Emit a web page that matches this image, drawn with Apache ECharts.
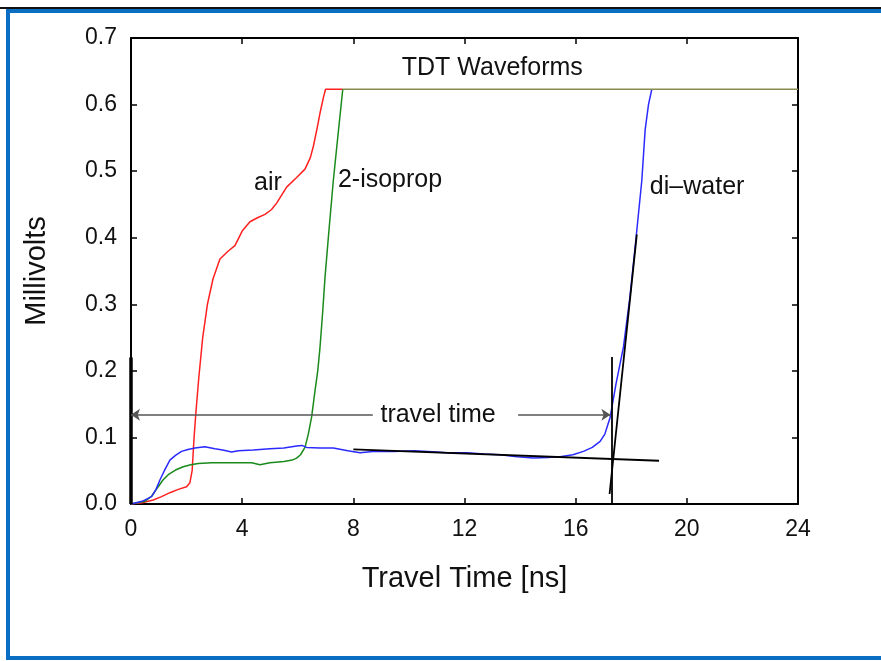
<!DOCTYPE html>
<html>
<head>
<meta charset="utf-8">
<script src="https://cdn.jsdelivr.net/npm/echarts@6/dist/echarts.min.js"></script>
<style>
  html, body { margin: 0; padding: 0; background: #fff; }
  #main { width: 881px; height: 661px; }
</style>
</head>
<body>
<div id="main"></div>
<script>
// axis ticks
const xTicks = [0, 4, 8, 12, 16, 20, 24];
const yTicks = [0, 0.1, 0.2, 0.3, 0.4, 0.5, 0.6, 0.7];

// air waveform [ns, mV]
const airT = [0, 0.4, 0.8, 1.1, 1.4, 1.7, 2.0, 2.12, 2.2, 2.27, 2.34, 2.44, 2.58, 2.75, 2.95, 3.2, 3.5, 3.74, 4.0, 4.28, 4.55, 4.82, 5.05, 5.24, 5.6, 5.95, 6.26, 6.45, 6.56, 6.7, 6.8, 6.92, 7.0, 7.62];
const airV = [0, 0.002, 0.006, 0.011, 0.017, 0.022, 0.026, 0.032, 0.05, 0.1, 0.14, 0.19, 0.25, 0.3, 0.338, 0.368, 0.38, 0.388, 0.41, 0.424, 0.43, 0.435, 0.442, 0.452, 0.476, 0.49, 0.503, 0.52, 0.537, 0.565, 0.587, 0.61, 0.623, 0.623];

// 2-isopropanol waveform
const isoT = [0, 0.5, 0.75, 0.98, 1.15, 1.34, 1.6, 1.88, 2.15, 2.42, 2.9, 3.6, 4.34, 4.64, 5.0, 5.5, 5.8, 5.96, 6.1, 6.26, 6.38, 6.5, 6.62, 6.72, 6.8, 6.9, 6.98, 7.1, 7.28, 7.45, 7.62];
const isoV = [0, 0.004, 0.012, 0.026, 0.036, 0.044, 0.051, 0.056, 0.059, 0.061, 0.062, 0.062, 0.062, 0.059, 0.062, 0.064, 0.066, 0.069, 0.074, 0.085, 0.105, 0.131, 0.17, 0.2, 0.235, 0.29, 0.34, 0.4, 0.486, 0.555, 0.623];

// di-water waveform
const waterT = [0, 0.4, 0.74, 0.9, 1.04, 1.2, 1.4, 1.6, 1.82, 2.05, 2.3, 2.66, 3.02, 3.3, 3.62, 3.86, 4.4, 5.0, 5.5, 5.96, 6.15, 6.32, 6.8, 7.28, 7.8, 8.24, 8.7, 9.44, 10.2, 11.0, 11.36, 12.08, 12.7, 13.28, 13.9, 14.48, 15.0, 15.44, 15.9, 16.28, 16.6, 16.88, 17.05, 17.24, 17.45, 17.72, 17.95, 18.14, 18.38, 18.5, 18.62, 18.74];
const waterV = [0, 0.004, 0.011, 0.022, 0.036, 0.05, 0.066, 0.073, 0.079, 0.082, 0.084, 0.086, 0.083, 0.081, 0.078, 0.08, 0.081, 0.083, 0.084, 0.087, 0.088, 0.085, 0.084, 0.084, 0.08, 0.077, 0.079, 0.079, 0.08, 0.078, 0.077, 0.077, 0.075, 0.074, 0.071, 0.069, 0.07, 0.071, 0.074, 0.079, 0.085, 0.094, 0.105, 0.13, 0.18, 0.236, 0.31, 0.386, 0.486, 0.562, 0.6, 0.623];

// saturated level shared by all three traces
const satT = [7.62, 24];
const satV = [0.623, 0.623];

// construction lines
const startLine = [[0, 0], [0, 0.22]];
const markerLines = [
  [[17.31, 0], [17.31, 0.221]],
  [[17.22, 0.015], [18.2, 0.405]],
  [[8.0, 0.082], [19.0, 0.065]]
];
const arrowLines = [
  [[8.7, 0.134], [0, 0.134]],
  [[13.93, 0.134], [17.25, 0.134]]
];

// in-plot annotations
const notes = [
  { text: 'TDT Waveforms', at: [13.0, 0.655] },
  { text: 'air', at: [4.93, 0.482] },
  { text: '2-isoprop', at: [9.32, 0.486] },
  { text: 'di\u2013water', at: [20.37, 0.476] },
  { text: 'travel time', at: [11.05, 0.134] }
];

const zip = (a, b) => a.map((v, i) => [v, b[i]]);

const chart = echarts.init(document.getElementById('main'));
const font = 'Liberation Sans, Arial, sans-serif';

const lineSeries = (data, color, z) => ({
  type: 'line',
  data: data,
  showSymbol: false,
  z: z,
  lineStyle: { color: color, width: 1.5 },
  animation: false
});

// one frame side: ticks inside, labels optional
const frameAxis = (extra) => Object.assign({
  type: 'value',
  axisLine: { onZero: false, lineStyle: { color: '#000', width: 2 } },
  axisTick: { inside: true, length: 6, lineStyle: { color: '#000', width: 1.5 } },
  splitLine: { show: false }
}, extra);

const option = {
  animation: false,
  grid: { left: 131, top: 38, right: 83, bottom: 157 },
  xAxis: [
    frameAxis({
      min: 0, max: 24, interval: 4,
      axisLabel: { color: '#111', fontSize: 23, fontFamily: font, margin: 14,
        formatter: v => xTicks.includes(v) ? String(v) : '' },
      name: 'Travel Time [ns]', nameLocation: 'middle', nameGap: 60,
      nameTextStyle: { color: '#111', fontSize: 29, fontFamily: font }
    }),
    frameAxis({ min: 0, max: 24, interval: 4, position: 'top', axisLabel: { show: false } })
  ],
  yAxis: [
    frameAxis({
      min: 0, max: 0.7, interval: 0.1,
      axisLabel: { color: '#111', fontSize: 23, fontFamily: font, margin: 14,
        formatter: v => yTicks.some(t => Math.abs(t - v) < 1e-9) ? v.toFixed(1) : '' },
      name: 'Millivolts', nameLocation: 'middle', nameGap: 80, nameRotate: 90,
      nameTextStyle: { color: '#111', fontSize: 29, fontFamily: font }
    }),
    frameAxis({ min: 0, max: 0.7, interval: 0.1, position: 'right', axisLabel: { show: false } })
  ],
  series: [
    lineSeries(zip(airT, airV), '#ff2020', 3),
    lineSeries(zip(isoT, isoV), '#1a8a1a', 4),
    lineSeries(zip(waterT, waterV), '#2a2aff', 5),
    lineSeries(zip(satT, satV), '#8a8a50', 6),
    {
      type: 'lines', coordinateSystem: 'cartesian2d', z: 7,
      data: [{ coords: startLine }],
      lineStyle: { color: '#000', width: 3.5, opacity: 1 },
      symbol: 'none', animation: false
    },
    {
      type: 'lines', coordinateSystem: 'cartesian2d', z: 7,
      data: markerLines.map(c => ({ coords: c })),
      lineStyle: { color: '#000', width: 1.8, opacity: 1 },
      symbol: 'none', animation: false
    },
    {
      type: 'lines', coordinateSystem: 'cartesian2d', z: 7,
      data: arrowLines.map(c => ({ coords: c })),
      lineStyle: { color: '#555', width: 1.5, opacity: 1 },
      symbol: ['none', 'arrow'], symbolSize: 9, animation: false
    }
  ]
};
chart.setOption(option);

// border frame and annotations
const graphics = [
  { type: 'line', shape: { x1: 0, y1: 8, x2: 881, y2: 8 }, style: { stroke: '#111', lineWidth: 2 }, silent: true },
  { type: 'rect', shape: { x: 8, y: 11, width: 900, height: 647 }, style: { fill: 'none', stroke: '#0a6fc2', lineWidth: 4 }, silent: true }
];
notes.forEach(n => {
  const p = chart.convertToPixel({ gridIndex: 0 }, n.at);
  graphics.push({
    type: 'text', x: p[0], y: p[1], z: 10,
    style: {
      text: n.text, fill: '#111', font: '25px ' + font,
      textAlign: 'center', textVerticalAlign: 'middle',
      backgroundColor: n.text === 'travel time' ? '#fff' : null
    }
  });
});
chart.setOption({ graphic: graphics });
</script>
</body>
</html>
